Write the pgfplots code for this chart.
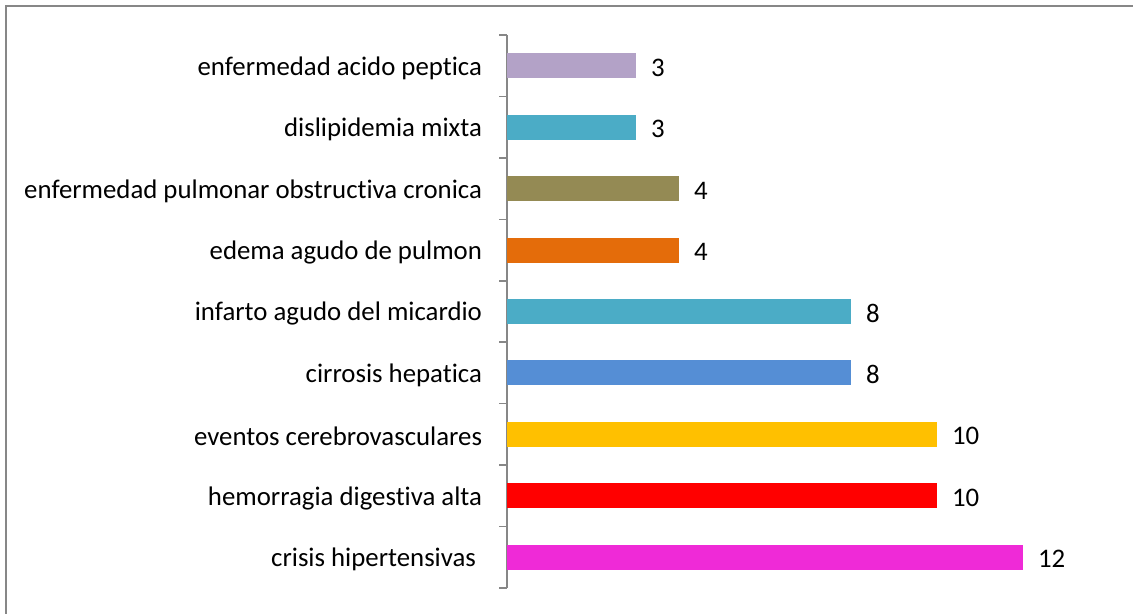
\documentclass[border=0pt]{standalone}
\usepackage{pgfplots}
\pgfplotsset{compat=1.18}
\usepackage{fontspec}
\setmainfont[Ligatures=NoCommon]{Carlito}

\definecolor{cCrisis}{HTML}{EF2AD7}
\definecolor{cHemo}{HTML}{FF0000}
\definecolor{cEvent}{HTML}{FFC000}
\definecolor{cCirr}{HTML}{558ED5}
\definecolor{cTeal}{HTML}{4BACC6}
\definecolor{cEdema}{HTML}{E46C0A}
\definecolor{cEpoc}{HTML}{948A54}
\definecolor{cAcido}{HTML}{B3A2C7}
\definecolor{axgray}{HTML}{878787}

\begin{document}
\begin{tikzpicture}[x=1pt,y=1pt]
  % canvas: 1 px of the reference = 0.5pt
  \useasboundingbox (0,0) rectangle (566.5,307);
  \draw[axgray, line width=1pt] (3,0) -- (3,304) -- (566.5,304);

  \begin{axis}[
    at={(253.5pt,13pt)}, anchor=south west,
    scale only axis,
    width=301pt, height=276.5pt,
    xbar, bar width=12.5pt, bar shift=0pt,
    xmin=0, xmax=14,
    ymin=-0.5, ymax=8.5,
    hide x axis,
    axis y line=left,
    y axis line style={axgray, line width=0.8pt, -},
    ytick={0,...,8},
    yticklabels={crisis hipertensivas\kern3pt,
                 hemorragia digestiva alta,
                 eventos cerebrovasculares,
                 cirrosis hepatica,
                 infarto agudo del micardio,
                 edema agudo de pulmon,
                 enfermedad pulmonar obstructiva cronica,
                 dislipidemia mixta,
                 enfermedad acido peptica},
    major tick length=0pt,
    minor ytick={-0.5,0.5,...,8.5},
    minor tick length=4pt,
    minor tick style={axgray, line width=0.8pt},
    tick align=outside,
    yticklabel style={font=\fontsize{13.4}{15.5}\selectfont, xshift=-9pt, yshift=-1.2pt},
    /pgf/number format/assume math mode=true,
    nodes near coords,
    nodes near coords style={font=\fontsize{13.4}{15.5}\selectfont, xshift=4pt, yshift=-1pt, text=black},
    every axis plot/.append style={draw=none},
  ]
  \addplot[fill=cCrisis] coordinates {(12,0)};
  \addplot[fill=cHemo] coordinates {(10,1)};
  \addplot[fill=cEvent] coordinates {(10,2)};
  \addplot[fill=cCirr] coordinates {(8,3)};
  \addplot[fill=cTeal] coordinates {(8,4)};
  \addplot[fill=cEdema] coordinates {(4,5)};
  \addplot[fill=cEpoc] coordinates {(4,6)};
  \addplot[fill=cTeal] coordinates {(3,7)};
  \addplot[fill=cAcido] coordinates {(3,8)};
  \end{axis}
\end{tikzpicture}
\end{document}
